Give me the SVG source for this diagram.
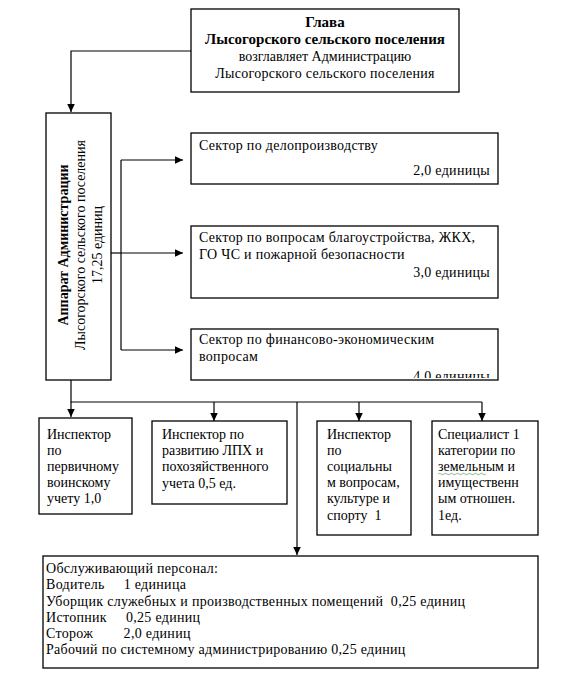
<svg xmlns="http://www.w3.org/2000/svg" width="570" height="687" viewBox="0 0 570 687">
<style>
.box{fill:#fff;stroke:#000;stroke-width:1.3}
.t{font-family:"Liberation Serif","Times New Roman",serif;font-size:14px;fill:#000}
.b{font-weight:bold}
.h{font-size:15px}
.s{letter-spacing:0.3px}
.c{fill:none;stroke:#000;stroke-width:1.2}
</style>
<defs>
<marker id="ah" markerUnits="userSpaceOnUse" markerWidth="9" markerHeight="8" refX="8.5" refY="4" orient="auto">
<path d="M0,0 L8.5,4 L0,8 z" fill="#000"/>
</marker>
<clipPath id="clip3"><rect x="191" y="329" width="307" height="49"/></clipPath>
</defs>
<rect width="570" height="687" fill="#fff"/>

<g id="connectors">
<path class="c" d="M191,51 H71 V112" marker-end="url(#ah)"/>
<path class="c" d="M111,253 H121"/>
<path class="c" d="M121,160 V350"/>
<path class="c" d="M121,160 H183" marker-end="url(#ah)"/>
<path class="c" d="M121,253 H183" marker-end="url(#ah)"/>
<path class="c" d="M121,350 H183" marker-end="url(#ah)"/>
<path class="c" d="M71,380 V402 H482"/>
<path class="c" d="M71,402 V417" marker-end="url(#ah)"/>
<path class="c" d="M214,402 V421" marker-end="url(#ah)"/>
<path class="c" d="M359,402 V421" marker-end="url(#ah)"/>
<path class="c" d="M482,402 V421" marker-end="url(#ah)"/>
<path class="c" d="M297,402 V555" marker-end="url(#ah)"/>
</g>

<g id="head">
<rect class="box" x="191" y="9" width="268" height="83"/>
<text class="t b h" x="325" y="27" text-anchor="middle">Глава</text>
<text class="t b h" x="325" y="44" text-anchor="middle">Лысогорского сельского поселения</text>
<text class="t" x="325" y="61" text-anchor="middle">возглавляет Администрацию</text>
<text class="t s" x="325" y="78" text-anchor="middle">Лысогорского сельского поселения</text>
</g>

<g id="apparat">
<rect class="box" x="46" y="113" width="65" height="267"/>
<g transform="translate(0,245) rotate(-90)">
<text class="t b" x="0" y="68" text-anchor="middle">Аппарат Администрации</text>
<text class="t" x="0" y="85" text-anchor="middle">Лысогорского сельского поселения</text>
<text class="t" x="0" y="102" text-anchor="middle">17,25 единиц</text>
</g>
</g>

<g id="sector1">
<rect class="box" x="191" y="133" width="307" height="51"/>
<text class="t s" x="199" y="150">Сектор по делопроизводству</text>
<text class="t s" x="490" y="175" text-anchor="end">2,0 единицы</text>
</g>

<g id="sector2">
<rect class="box" x="191" y="226" width="307" height="72"/>
<text class="t s" x="199" y="242">Сектор по вопросам благоустройства, ЖКХ,</text>
<text class="t s" x="199" y="259">ГО ЧС и пожарной безопасности</text>
<text class="t s" x="490" y="277" text-anchor="end">3,0 единицы</text>
</g>

<g id="sector3">
<rect class="box" x="191" y="329" width="307" height="51"/>
<text class="t s" x="199" y="344">Сектор по финансово-экономическим</text>
<text class="t s" x="199" y="361">вопросам</text>
<text class="t s" x="490" y="381" text-anchor="end" clip-path="url(#clip3)">4,0 единицы</text>
</g>

<g id="inspector1">
<rect class="box" x="39" y="418" width="93" height="96"/>
<text class="t" x="47" y="439">Инспектор</text>
<text class="t" x="47" y="455">по</text>
<text class="t" x="47" y="471">первичному</text>
<text class="t" x="47" y="487">воинскому</text>
<text class="t" x="47" y="503">учету 1,0</text>
</g>

<g id="inspector2">
<rect class="box" x="152" y="421" width="135" height="83"/>
<text class="t" x="162" y="439">Инспектор по</text>
<text class="t" x="162" y="455">развитию ЛПХ и</text>
<text class="t" x="162" y="471">похозяйственного</text>
<text class="t" x="162" y="488">учета 0,5 ед.</text>
</g>

<g id="inspector3">
<rect class="box" x="317" y="421" width="94" height="114"/>
<text class="t" x="327" y="439">Инспектор</text>
<text class="t" x="327" y="455">по</text>
<text class="t" x="327" y="471">социальны</text>
<text class="t" x="327" y="487">м вопросам,</text>
<text class="t" x="327" y="503">культуре и</text>
<text class="t" x="327" y="520" xml:space="preserve">спорту  1</text>
</g>

<g id="specialist">
<rect class="box" x="432" y="421" width="106" height="114"/>
<text class="t" x="438" y="439">Специалист 1</text>
<text class="t" x="438" y="455">категории по</text>
<text class="t" x="438" y="471">земельным и</text>
<path d="M438,474 q1.5,-1.5 3,0 t3,0 t3,0 t3,0 t3,0 t3,0 t3,0 t3,0 t3,0 t3,0 t3,0 t3,0 t3,0 t3,0 t3,0 t3,0" fill="none" stroke="#6ca36c" stroke-width="0.8"/>
<text class="t" x="438" y="487">имущественн</text>
<text class="t" x="438" y="503">ым отношен.</text>
<text class="t" x="438" y="520">1ед.</text>
</g>

<g id="staff">
<rect class="box" x="43" y="556" width="495" height="112"/>
<text class="t s" x="46" y="573">Обслуживающий персонал:</text>
<text class="t s" x="46" y="589" xml:space="preserve">Водитель     1 единица</text>
<text class="t s" x="46" y="606" xml:space="preserve">Уборщик служебных и производственных помещений  0,25 единиц</text>
<text class="t s" x="46" y="622" xml:space="preserve">Истопник     0,25 единиц</text>
<text class="t s" x="46" y="638" xml:space="preserve">Сторож        2,0 единиц</text>
<text class="t s" x="46" y="654">Рабочий по системному администрированию 0,25 единиц</text>
</g>
</svg>
